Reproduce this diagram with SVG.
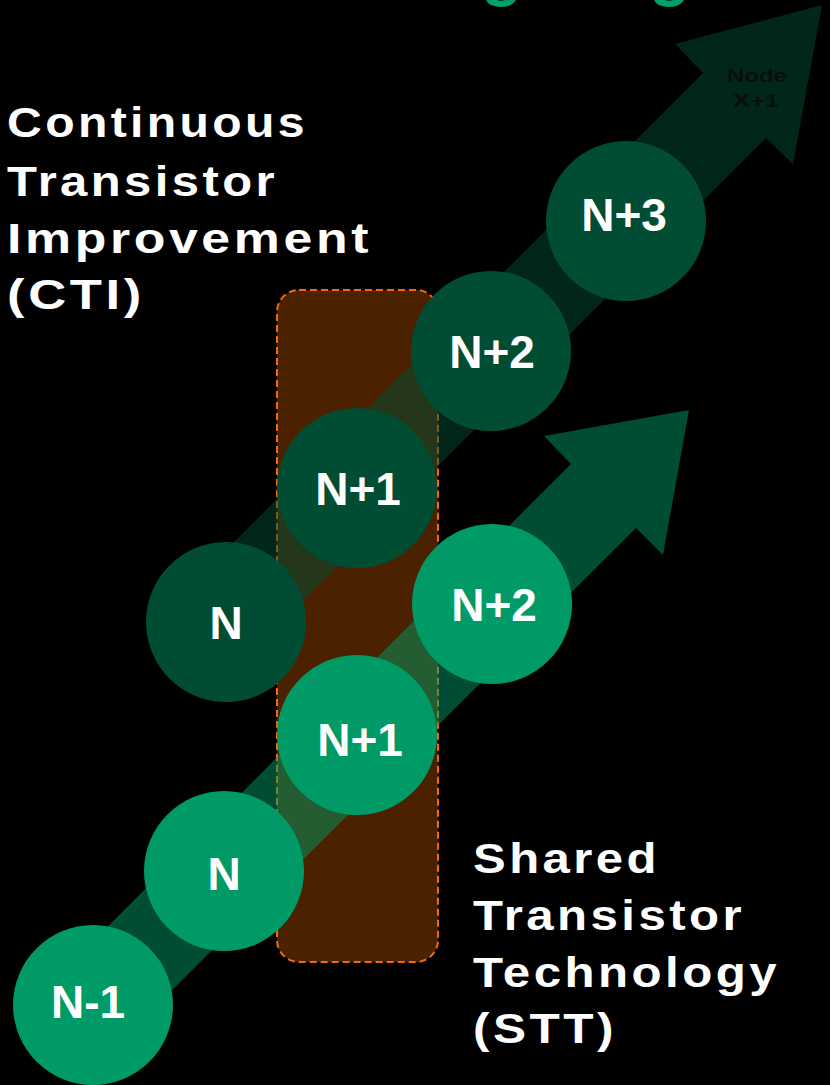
<svg xmlns="http://www.w3.org/2000/svg" width="830" height="1085" viewBox="0 0 830 1085">
<style>
.bg{fill:#000}
.dark{fill:#004D33}
.light{fill:#009A66}
.lbl{font-family:"Liberation Sans",Arial,sans-serif;font-weight:bold;font-size:46px;fill:#fff;text-anchor:middle}
.side{font-family:"Liberation Sans",Arial,sans-serif;font-weight:bold;font-size:43px;fill:#fff;letter-spacing:3px}
.tiny{font-family:"Liberation Sans",Arial,sans-serif;font-weight:bold;font-size:19px;fill:#0a0f0c;text-anchor:middle}
.title{font-family:"Liberation Sans",Arial,sans-serif;font-weight:bold;font-size:68px;fill:#00A06A}
</style>
<rect class="bg" x="0" y="0" width="830" height="1085"/>
<g id="title">
<text class="title" x="481" y="-7">g</text>
<text class="title" x="649" y="-7">g</text>
</g>
<g id="stt-box">
<rect x="277" y="290" width="161" height="672" rx="22" ry="22" fill="#4B2100" stroke="#F26A10" stroke-width="2" stroke-dasharray="7 4"/>
</g>
<g id="connectors">
<polygon id="cti-arrow" points="194,582 703,73 675,44 822,5 793,164 766,138 258,646" fill="#004D33" fill-opacity="0.5"/>
<polygon id="stt-arrow" points="61,973 571,464 544,436 689,410 663,555 636,528 125,1037" fill="#009A66" fill-opacity="0.5"/>
</g>
<g id="node-x1"><text class="tiny" x="757" y="82" textLength="60" lengthAdjust="spacingAndGlyphs">Node</text><text class="tiny" x="756" y="107" textLength="46" lengthAdjust="spacingAndGlyphs">X+1</text></g>
<g id="cti-n"><circle class="dark" cx="226" cy="622" r="80"/><text class="lbl" x="226" y="639">N</text></g>
<g id="cti-n1"><circle class="dark" cx="357" cy="488" r="80"/><text class="lbl" x="358" y="505">N+1</text></g>
<g id="cti-n2"><circle class="dark" cx="491" cy="351" r="80"/><text class="lbl" x="492" y="368">N+2</text></g>
<g id="cti-n3"><circle class="dark" cx="626" cy="221" r="80"/><text class="lbl" x="624" y="231">N+3</text></g>
<g id="stt-nm1"><circle class="light" cx="93" cy="1005" r="80"/><text class="lbl" x="88" y="1018">N-1</text></g>
<g id="stt-n"><circle class="light" cx="224" cy="871" r="80"/><text class="lbl" x="224" y="890">N</text></g>
<g id="stt-n1"><circle class="light" cx="357" cy="735" r="80"/><text class="lbl" x="360" y="756">N+1</text></g>
<g id="stt-n2"><circle class="light" cx="492" cy="604" r="80"/><text class="lbl" x="494" y="621">N+2</text></g>
<g id="cti-label">
<text class="side" x="7" y="137" textLength="301" lengthAdjust="spacingAndGlyphs">Continuous</text>
<text class="side" x="7" y="196" textLength="271" lengthAdjust="spacingAndGlyphs">Transistor</text>
<text class="side" x="7" y="253" textLength="365" lengthAdjust="spacingAndGlyphs">Improvement</text>
<text class="side" x="7" y="309" textLength="138" lengthAdjust="spacingAndGlyphs">(CTI)</text>
</g>
<g id="stt-label">
<text class="side" x="473" y="873" textLength="187" lengthAdjust="spacingAndGlyphs">Shared</text>
<text class="side" x="473" y="930" textLength="272" lengthAdjust="spacingAndGlyphs">Transistor</text>
<text class="side" x="473" y="987" textLength="307" lengthAdjust="spacingAndGlyphs">Technology</text>
<text class="side" x="473" y="1043" textLength="144" lengthAdjust="spacingAndGlyphs">(STT)</text>
</g>
</svg>
